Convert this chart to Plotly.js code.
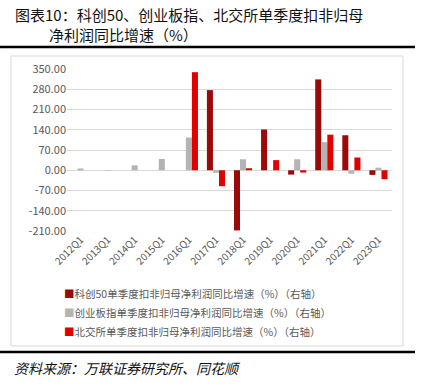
<!DOCTYPE html>
<html><head><meta charset="utf-8">
<script src="https://cdn.plot.ly/plotly-3.0.1.min.js"></script>
<style>body{margin:0;background:#fff}#c{width:424px;height:387px}</style>
</head><body><div id="c"></div>
<script>
const categories = ["2012Q1","2013Q1","2014Q1","2015Q1","2016Q1","2017Q1","2018Q1","2019Q1","2020Q1","2021Q1","2022Q1","2023Q1"];
const kc50 = [null,null,null,null,null,277,-208,141,-15,314,121,-16];
const cyb = [6,-1.5,17,39,113,-9,38,0,38,97,-12,9];
const bjs = [null,null,null,null,339,-55,7,35,-8,123,44,-31];
const names = ["科创50单季度扣非归母净利润同比增速（%）（右轴）","创业板指单季度扣非归母净利润同比增速（%）（右轴）","北交所单季度扣非归母净利润同比增速（%）（右轴）"];
const yTicks = [-210,-140,-70,0,70,140,210,280,350];

const colors = ["#9B0A0A","#B4B4B4","#E00000"];
const series = [kc50, cyb, bjs];
const traces = series.map((s,i)=>({type:'bar',x:categories,y:s,name:names[i],marker:{color:colors[i]},showlegend:false}));

const L=67,R=392,T=69,B=231;
const px=x=>(x-L)/(R-L), py=y=>(B-y)/(B-T);
const font="'Noto Sans CJK SC', sans-serif";
const legendRows=[293,312,331];
const legendAnn = names.map((n,i)=>({xref:'paper',yref:'paper',x:px(62),y:py(legendRows[i]),xanchor:'left',yanchor:'middle',showarrow:false,
  text:"<span style='color:"+colors[i]+"'>■</span>"+n,font:{family:font,size:10.5,color:'#595959'}}));
const layout={
  width:424,height:387,margin:{l:L,r:424-R,t:T,b:387-B},
  paper_bgcolor:'#fff',plot_bgcolor:'#fff',
  barmode:'group',bargap:0.33,bargroupgap:0,
  font:{family:font,color:'#595959',size:11},
  xaxis:{type:'category',tickangle:-45,tickfont:{size:10,color:'#595959'},showgrid:false,zeroline:false,showline:false,ticks:''},
  yaxis:{range:[-210,350],tickvals:yTicks,ticktext:yTicks.map(v=>v.toFixed(2)),tickfont:{size:11,color:'#595959'},gridcolor:'#D9D9D9',gridwidth:1,zeroline:true,zerolinecolor:'#D9D9D9',zerolinewidth:1,showline:false,ticks:'',fixedrange:true},
  showlegend:false,
  shapes:[
    {type:'rect',xref:'paper',yref:'paper',x0:px(11),x1:px(403),y0:py(346),y1:py(56),line:{color:'#D9D9D9',width:1},layer:'below'},
    {type:'line',xref:'paper',yref:'paper',x0:px(0),x1:px(415),y0:py(47),y1:py(47),line:{color:'#000',width:2.5}},
    {type:'line',xref:'paper',yref:'paper',x0:px(0),x1:px(415),y0:py(352),y1:py(352),line:{color:'#000',width:2.5}}
  ],
  annotations:[
    {xref:'paper',yref:'paper',x:px(13),y:py(14),xanchor:'left',yanchor:'middle',showarrow:false,text:"图表10：科创50、创业板指、北交所单季度扣非归母",font:{family:font,size:15,color:'#111'}},
    {xref:'paper',yref:'paper',x:px(47),y:py(35),xanchor:'left',yanchor:'middle',showarrow:false,text:"净利润同比增速（%）",font:{family:font,size:15,color:'#111'}},
    {xref:'paper',yref:'paper',x:px(12),y:py(368),xanchor:'left',yanchor:'middle',showarrow:false,text:"<i>资料来源：万联证券研究所、同花顺</i>",font:{family:font,size:14,color:'#111'}}
  ].concat(legendAnn)
};
Plotly.newPlot('c',traces,layout,{displayModeBar:false,staticPlot:true});
</script></body></html>
